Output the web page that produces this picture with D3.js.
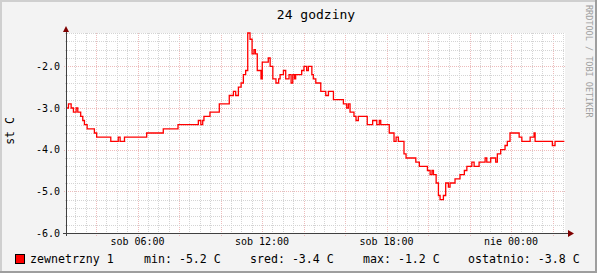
<!DOCTYPE html>
<html lang="pl">
<head>
<meta charset="utf-8"/>
<title>24 godziny</title>
<script src="https://cdn.jsdelivr.net/npm/d3@7/dist/d3.min.js"></script>
<style>
  html,body { margin:0; padding:0; background:#f3f3f3; overflow:hidden; }
  svg text { font-family:"DejaVu Sans Mono", monospace; fill:#000; }
</style>
</head>
<body>
<svg id="chart" width="597" height="273"></svg>
<script>
// dane: godziny od sob 00:00 (początek kroku) i temperatura
const hours = [2.60,2.67,2.80,2.91,3.04,3.12,3.26,3.36,3.44,3.57,3.92,4.03,4.71,5.07,5.16,5.37,
  6.44,7.24,7.95,8.93,9.05,9.14,9.20,9.49,9.94,10.42,10.62,10.73,10.86,10.99,11.10,11.21,
  11.31,11.42,11.52,11.61,11.68,11.77,11.95,12.01,12.30,12.39,12.52,12.67,12.80,12.87,13.03,
  13.14,13.30,13.40,13.48,13.56,13.62,13.91,14.02,14.15,14.23,14.40,14.47,14.59,14.83,15.07,
  15.20,15.44,15.92,16.08,16.16,16.24,16.43,16.53,16.64,17.07,17.33,17.53,17.65,17.72,18.13,
  18.36,18.46,18.57,18.84,18.94,19.41,19.58,19.97,20.10,20.19,20.26,20.39,20.50,20.58,20.74,
  20.85,20.98,21.06,21.30,21.54,21.75,21.87,22.11,22.22,22.46,22.75,22.83,23.02,23.26,23.34,
  23.50,23.71,23.82,23.95,24.39,24.52,24.92,25.11,25.16,25.99,26.12];
const temps = [-3.0,-2.9,-3.0,-3.1,-3.0,-3.1,-3.2,-3.3,-3.4,-3.5,-3.6,-3.7,-3.8,-3.7,-3.8,-3.7,
  -3.6,-3.5,-3.4,-3.3,-3.4,-3.3,-3.2,-3.1,-2.9,-2.7,-2.6,-2.7,-2.5,-2.4,-2.2,-2.1,
  -1.2,-1.35,-1.7,-1.6,-1.7,-2.1,-2.3,-1.9,-1.8,-2.0,-2.3,-2.4,-2.3,-2.2,-2.1,
  -2.3,-2.2,-2.4,-2.2,-2.3,-2.2,-2.1,-2.0,-2.1,-2.0,-2.2,-2.3,-2.4,-2.6,-2.7,
  -2.6,-2.8,-2.9,-3.0,-2.9,-3.1,-3.2,-3.3,-3.2,-3.4,-3.3,-3.4,-3.3,-3.4,-3.6,
  -3.8,-3.7,-3.8,-4.1,-4.2,-4.3,-4.4,-4.5,-4.6,-4.5,-4.6,-4.8,-5.1,-5.2,-5.1,
  -4.8,-4.9,-4.8,-4.7,-4.6,-4.5,-4.4,-4.3,-4.4,-4.3,-4.2,-4.3,-4.2,-4.3,-4.1,
  -4.0,-3.9,-3.8,-3.6,-3.7,-3.8,-3.7,-3.6,-3.8,-3.9,-3.8];
const endHour = 26.60;
const yTicksMajor = [-6,-5,-4,-3,-2];
const dayNames = ["nie","pon","wto","sro","czw","pia","sob"];
const seriesName = "zewnetrzny 1";

const svg = d3.select("#chart");
const W = 597, H = 273;
const L = 67, R = 565, T = 33, B = 233;
const base = new Date(2010, 0, 2); // sobota
const toDate = h => new Date(base.getTime() + h*3600e3);

const x = d3.scaleTime().domain([toDate(hours[0]), toDate(endHour)]).range([L, R]);
const y = d3.scaleLinear().domain([-6, -1.2]).range([B, T]);
const px = v => Math.round(v) + 0.5;

// tło i ramka
svg.append("rect").attr("width",W).attr("height",H).attr("fill","#f3f3f3");
svg.append("rect").attr("x",0).attr("y",0).attr("width",W).attr("height",2).attr("fill","#cfcfcf");
svg.append("rect").attr("x",0).attr("y",0).attr("width",2).attr("height",H).attr("fill","#cfcfcf");
svg.append("rect").attr("x",0).attr("y",H-2).attr("width",W).attr("height",2).attr("fill","#9e9e9e");
svg.append("rect").attr("x",W-2).attr("y",0).attr("width",2).attr("height",H).attr("fill","#9e9e9e");
svg.append("rect").attr("x",L).attr("y",T).attr("width",R-L).attr("height",B-T).attr("fill","#fff");

const g = svg.append("g").attr("shape-rendering","crispEdges");
const [d0, d1] = x.domain();
const minorCol = "#d4d4d4", majorCol = "#edbcbc";

// pionowa siatka
const minorX = d3.timeMinute.every(30).range(d0, d1);
const majorX = d3.timeHour.every(2).range(d0, d1);
const isMajor = d => d.getHours() % 2 === 0 && d.getMinutes() === 0;
g.selectAll(".vminor").data(minorX.filter(d => !isMajor(d))).join("line")
  .attr("x1", d => px(x(d))).attr("x2", d => px(x(d)))
  .attr("y1", T).attr("y2", B+2)
  .attr("stroke",minorCol).attr("stroke-dasharray","1,1");
g.selectAll(".vmajor").data(majorX).join("line")
  .attr("x1", d => px(x(d))).attr("x2", d => px(x(d)))
  .attr("y1", T).attr("y2", B+3)
  .attr("stroke",majorCol).attr("stroke-dasharray","1,1");

// pozioma siatka
const minorY = d3.range(-5.8, -1.2 + 1e-6, 0.2).filter(v => Math.abs(v - Math.round(v)) > 1e-6);
g.selectAll(".hminor").data(minorY).join("line")
  .attr("x1", L-2).attr("x2", R)
  .attr("y1", d => px(y(d))).attr("y2", d => px(y(d)))
  .attr("stroke",minorCol).attr("stroke-dasharray","1,1");
g.selectAll(".hmajor").data(yTicksMajor.filter(v => v > -6)).join("line")
  .attr("x1", L-3).attr("x2", R)
  .attr("y1", d => px(y(d))).attr("y2", d => px(y(d)))
  .attr("stroke",majorCol).attr("stroke-dasharray","1,1");

// seria
const pts = hours.map((h,i) => [toDate(h), temps[i]]);
pts.push([toDate(26.57), temps[temps.length-1]]);
svg.append("path").datum(pts)
  .attr("fill","none").attr("stroke","#ff0000").attr("stroke-width",1.3)
  .attr("d", d3.line().x(d => x(d[0])).y(d => y(d[1])).curve(d3.curveStepAfter));

// osie
const ax = svg.append("g").attr("shape-rendering","crispEdges");
ax.append("line").attr("x1", L-4).attr("x2", R+4).attr("y1", px(B)).attr("y2", px(B)).attr("stroke","#404040");
ax.append("line").attr("x1", px(L-1)).attr("x2", px(L-1)).attr("y1", B+3).attr("y2", T-2).attr("stroke","#404040");
svg.append("path").attr("d", `M${L-4},${T-1}L${L+2},${T-1}L${L-1},${T-7}Z`).attr("fill","#7f0000");
svg.append("path").attr("d", `M${R+3},${B-3}L${R+3},${B+4}L${R+9},${B+0.5}Z`).attr("fill","#7f0000");

// etykiety osi Y
svg.selectAll(".ylab").data(yTicksMajor).join("text")
  .attr("x", 60).attr("y", d => y(d)).attr("dy","0.35em")
  .attr("text-anchor","end").attr("font-size","10px")
  .text(d => d3.format(".1f")(d).replace("−","-"));

// etykiety osi X
const labX = d3.timeHour.every(6).range(d0, d1);
svg.selectAll(".xlab").data(labX).join("text")
  .attr("x", d => x(d)).attr("y", 245)
  .attr("text-anchor","middle").attr("font-size","10px")
  .text(d => dayNames[d.getDay()] + " " + d3.timeFormat("%H:%M")(d));

// tytuł, opis osi, znak wodny
svg.append("text").attr("x", (L+R)/2).attr("y", 19).attr("text-anchor","middle")
  .attr("font-size","13px").text("24 godziny");
svg.append("text").attr("transform","translate(14,131) rotate(-90)")
  .attr("text-anchor","middle").attr("font-size","11.5px").text("st C");
svg.append("text").attr("transform","translate(586,5) rotate(90)")
  .attr("font-size","8.5px").style("fill","#a0a0a0").text("RRDTOOL / TOBI OETIKER");

// legenda
let sum = 0, dur = 0;
for (let i = 0; i < pts.length-1; i++) {
  const dt = pts[i+1][0] - pts[i][0];
  sum += pts[i][1]*dt; dur += dt;
}
const f1 = v => d3.format(".1f")(v).replace("−","-");
const stats = [
  ["min:", d3.min(temps)], ["sred:", sum/dur], ["max:", d3.max(temps)], ["ostatnio:", temps[temps.length-1]]
];
const legX = [144, 250, 363, 468];
svg.append("rect").attr("x",15.5).attr("y",254.5).attr("width",9).attr("height",9)
  .attr("fill","#ff0000").attr("stroke","#000").attr("shape-rendering","crispEdges");
svg.append("text").attr("x",30).attr("y",263).attr("font-size","11.6px").text(seriesName);
svg.selectAll(".leg").data(stats).join("text")
  .attr("x", (d,i) => legX[i]).attr("y", 263).attr("font-size","11.6px")
  .attr("xml:space","preserve")
  .text(d => `${d[0]} ${f1(d[1])} C`);
</script>
</body>
</html>
